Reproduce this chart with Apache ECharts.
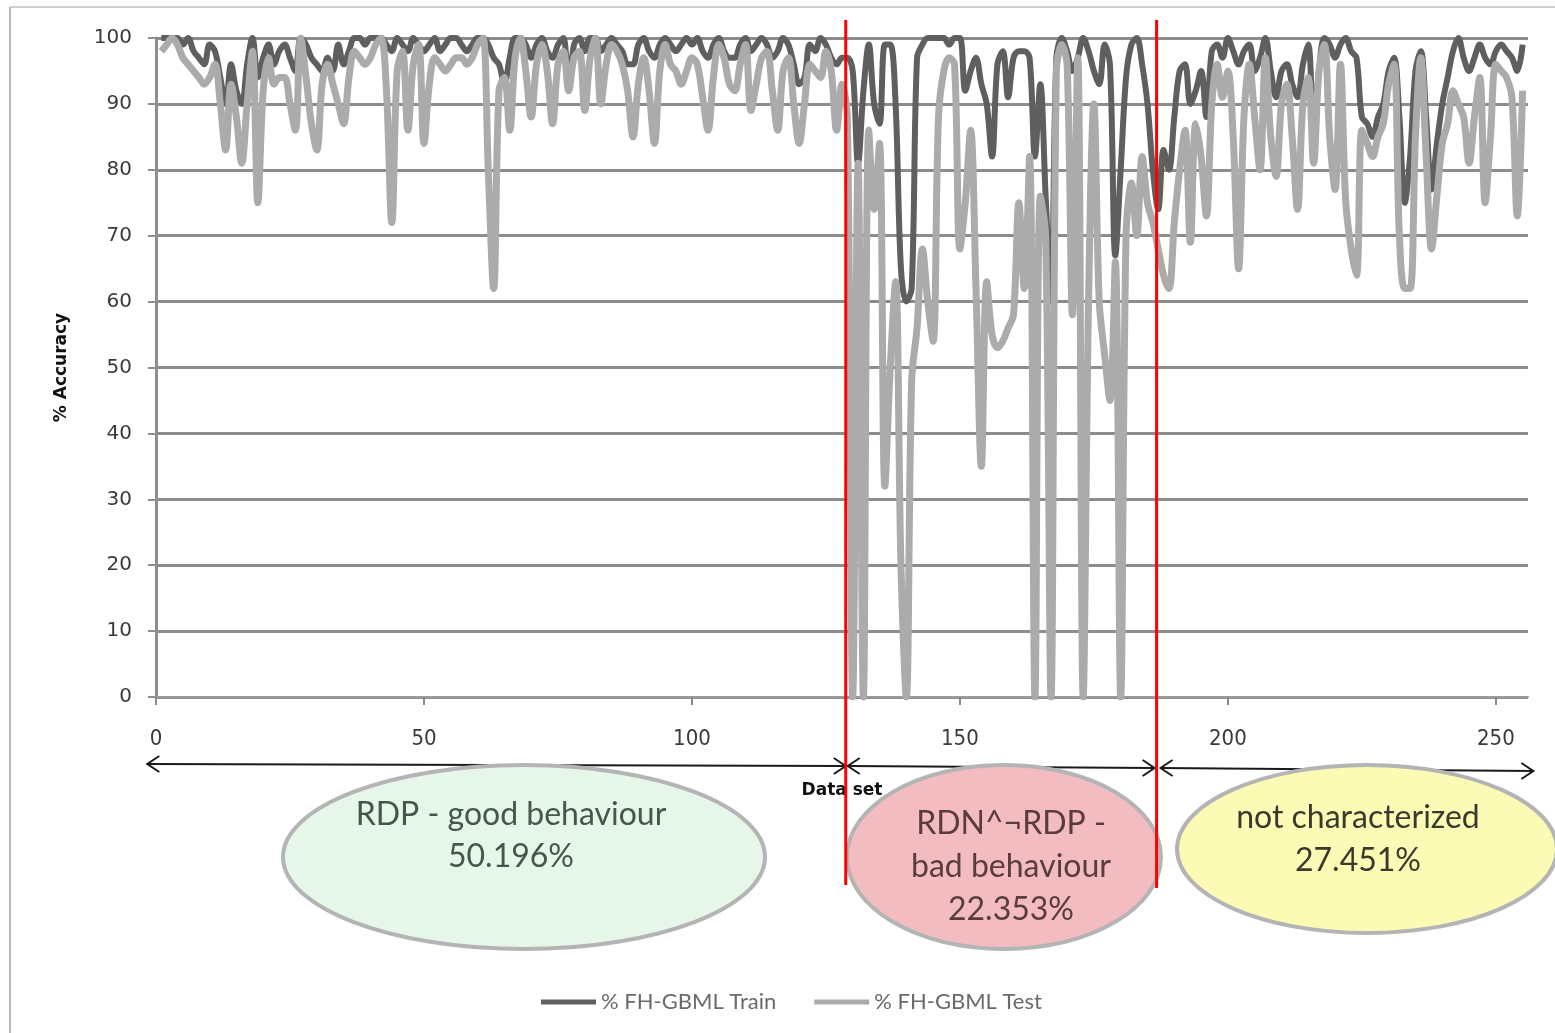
<!DOCTYPE html>
<html>
<head>
<meta charset="utf-8">
<script src="https://cdn.jsdelivr.net/npm/echarts@6/dist/echarts.min.js"></script>
<style>
html, body { margin: 0; padding: 0; background: #ffffff; }
#chart { width: 1555px; height: 1033px; }
</style>
</head>
<body>
<div id="chart"></div>
<script>
// Accuracy per dataset (datasets 1..255)
const trainAcc = [
  100,100,100,100,99,100,98,97,96,99,
  98,94,90,96,92,90,96,100,94,97,
  99,96,98,99,97,95,100,99,97,96,
  95,97,95,99,96,98,100,100,99,100,
  100,100,99,98,100,99,98,100,99,98,
  99,100,98,99,100,100,99,98,99,100,
  100,99,97,96,93,97,100,100,99,97,
  99,100,98,97,99,100,93,99,100,98,
  100,100,98,99,100,99,98,96,96,99,
  100,98,97,99,100,99,98,99,100,99,
  100,98,97,99,100,98,97,97,99,100,
  98,99,100,99,97,98,100,99,96,93,
  94,99,98,100,99,97,96,97,
  97,95,81,92,99,90,87,99,99,90,65,60,
  62,97,99,100,100,100,100,99,100,100,
  92,95,97,93,90,82,96,98,91,97,
  98,98,97,82,93,76,60,97,100,98,
  95,97,100,98,95,93,99,96,67,80,
  94,99,100,96,90,
  80,74,83,80,88,95,96,90,92,95,
  88,98,99,97,100,98,96,98,99,95,
  97,100,95,91,95,96,93,91,96,99,
  86,95,100,99,97,99,100,98,97,88,
  87,85,88,90,95,97,88,75,82,95,
  98,88,77,84,90,94,98,100,97,95,
  97,99,97,96,98,99,98,97,95,99
];
const testAcc = [
  98,99,100,99,97,96,95,94,93,94,
  96,90,83,93,88,81,90,98,75,92,
  97,93,94,94,90,86,100,94,87,83,
  93,96,93,90,87,94,98,97,96,97,
  99,100,92,72,95,98,86,96,99,84,
  93,97,96,95,96,97,97,96,97,99,
  100,80,62,92,94,86,97,100,95,88,
  96,99,95,87,96,98,92,97,98,89,
  97,100,90,96,99,98,96,92,85,93,
  97,92,84,95,99,96,95,93,95,97,
  96,91,86,94,99,97,93,92,96,99,
  89,93,97,98,92,86,95,97,90,84,
  90,96,95,94,98,95,86,93,
  88,0,81,0,86,74,84,32,50,63,20,0,
  48,56,68,60,54,88,95,97,96,68,
  75,86,62,35,63,55,53,54,56,58,
  75,62,82,0,76,70,0,95,99,96,
  58,97,0,60,90,60,52,45,66,0,
  70,78,70,82,75,
  72,68,64,62,72,80,86,69,87,82,
  73,90,96,91,95,85,65,88,96,88,
  80,97,85,79,90,93,85,74,90,94,
  81,95,99,85,77,96,75,68,64,86,
  84,82,85,87,93,96,70,62,62,85,
  97,82,68,76,84,87,92,90,88,81,
  88,94,75,85,96,95,94,91,73,92
];
const seriesNames = ['% FH-GBML Train', '% FH-GBML Test'];
const xTicks = [0, 50, 100, 150, 200, 250];
const xMax = 256;
const yMin = 0, yMax = 100, yStep = 10;

// Dataset group boundaries on the x scale and the group captions
const regionBounds = [128.7, 186.7];
const regionLabels = [
  ['RDP - good behaviour', '50.196%'],
  ['RDN^\u00acRDP -', 'bad behaviour', '22.353%'],
  ['not characterized', '27.451%']
];

const chart = echarts.init(document.getElementById('chart'), null, { renderer: 'canvas' });

const toPairs = arr => arr.map((v, i) => [i + 1, v]);

chart.setOption({
  backgroundColor: '#ffffff',
  animation: false,
  grid: { left: 156, right: 27, top: 38, bottom: 336, containLabel: false },
  legend: {
    data: seriesNames,
    left: 536,
    top: 986,
    icon: 'rect',
    itemWidth: 55,
    itemHeight: 5,
    itemGap: 38,
    textStyle: { fontFamily: 'Lato', fontSize: 22, color: '#6a6a6a' }
  },
  xAxis: {
    type: 'value',
    min: 0,
    max: xMax,
    name: 'Data set',
    nameLocation: 'middle',
    nameGap: 85,
    nameTextStyle: { fontFamily: 'DejaVu Sans', fontWeight: 'bold', fontSize: 17, color: '#111' },
    axisLine: { show: true, lineStyle: { color: '#9a9a9a', width: 2 } },
    axisTick: { show: true, customValues: xTicks, length: 8, lineStyle: { color: '#8a8a8a', width: 2 } },
    axisLabel: {
      customValues: xTicks,
      margin: 31,
      fontFamily: 'DejaVu Sans Condensed, DejaVu Sans',
      fontSize: 22,
      color: '#3a3a3a'
    },
    splitLine: { show: false }
  },
  yAxis: {
    type: 'value',
    min: yMin,
    max: yMax,
    interval: yStep,
    name: '% Accuracy',
    nameLocation: 'middle',
    nameGap: 86,
    nameTextStyle: { fontFamily: 'DejaVu Sans', fontWeight: 'bold', fontSize: 17, color: '#111' },
    axisLine: { show: true, lineStyle: { color: '#8e8e8e', width: 3 } },
    axisTick: { show: true, length: 8, lineStyle: { color: '#8e8e8e', width: 2 } },
    axisLabel: { margin: 24, fontFamily: 'DejaVu Sans', fontSize: 20, color: '#3a3a3a' },
    splitLine: { show: true, lineStyle: { color: '#8c8c8c', width: 3 } }
  },
  series: [
    {
      name: seriesNames[0],
      type: 'line',
      data: toPairs(trainAcc),
      showSymbol: false,
      smooth: 0.35,
      lineStyle: { color: '#5f5f5f', width: 6 },
      itemStyle: { color: '#5f5f5f' },
      z: 2
    },
    {
      name: seriesNames[1],
      type: 'line',
      data: toPairs(testAcc),
      showSymbol: false,
      smooth: 0.35,
      lineStyle: { color: '#ababab', width: 7 },
      itemStyle: { color: '#ababab' },
      z: 3
    }
  ]
});

// Annotation layer: frame, group arrows, captions, boundary lines
const px = v => chart.convertToPixel({ xAxisIndex: 0 }, v);
const xStart = px(-2), xB1 = px(regionBounds[0]), xB2 = px(regionBounds[1]), xEnd = px(257);

function arrow(x1, x2, y1, y2) {
  const s = 12, h = 8;
  const stroke = { stroke: '#1a1a1a', lineWidth: 2, fill: null };
  return [
    { type: 'line', shape: { x1: x1, y1: y1, x2: x2, y2: y2 }, style: stroke, z: 5 },
    { type: 'polyline', shape: { points: [[x1 + s, y1 - h], [x1, y1], [x1 + s, y1 + h]] }, style: stroke, z: 5 },
    { type: 'polyline', shape: { points: [[x2 - s, y2 - h], [x2, y2], [x2 - s, y2 + h]] }, style: stroke, z: 5 }
  ];
}

function caption(cx, cy, rx, ry, fill, lines, color, tx, y0, step) {
  const items = [{
    type: 'ellipse',
    shape: { cx: cx, cy: cy, rx: rx, ry: ry },
    style: { fill: fill, stroke: '#b4b4b4', lineWidth: 4 },
    z: 6
  }];
  lines.forEach((t, i) => {
    items.push({
      type: 'text',
      x: tx,
      y: y0 + i * step,
      style: {
        text: t,
        fontFamily: 'Lato',
        fontSize: 32,
        fill: color,
        align: 'center',
        verticalAlign: 'middle'
      },
      z: 7
    });
  });
  return items;
}

const graphics = [].concat(
  [
    { type: 'line', shape: { x1: 10, y1: 7, x2: 1555, y2: 7 }, style: { stroke: '#cfcfcf', lineWidth: 2 }, z: 1 },
    { type: 'line', shape: { x1: 10, y1: 7, x2: 10, y2: 1033 }, style: { stroke: '#b8b8b8', lineWidth: 2 }, z: 1 }
  ],
  arrow(xStart + 2, xB1, 764, 766),
  arrow(xB1 + 2, xB2 - 2, 766, 768),
  arrow(xB2 + 4, xEnd, 768, 771),
  caption(524, 857, 241, 92, '#e6f7ea', regionLabels[0], '#46564c', 511, 815, 42),
  caption(1004, 857, 157, 92, '#f3bcc0', regionLabels[1], '#5a3c3e', 1011, 824, 43),
  caption(1367, 849, 190, 84, '#fbfbb6', regionLabels[2], '#3a3a2c', 1358, 818, 43),
  [
    { type: 'line', shape: { x1: xB1, y1: 20, x2: xB1, y2: 885 }, style: { stroke: '#ff0000', lineWidth: 3 }, z: 8 },
    { type: 'line', shape: { x1: xB2, y1: 20, x2: xB2, y2: 888 }, style: { stroke: '#ff0000', lineWidth: 3 }, z: 8 }
  ]
);

chart.setOption({ graphic: { elements: graphics } });
</script>
</body>
</html>
